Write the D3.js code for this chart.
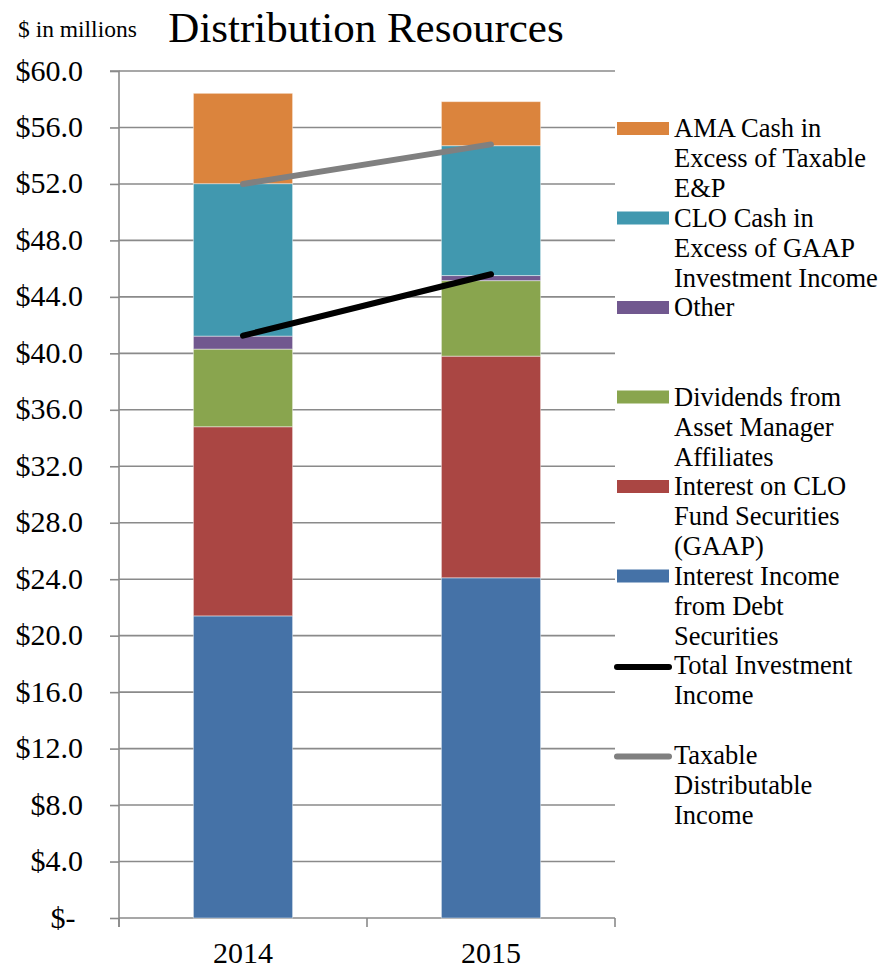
<!DOCTYPE html>
<html>
<head>
<meta charset="utf-8">
<script src="https://cdn.jsdelivr.net/npm/d3@7"></script>
<style>
  html, body { margin: 0; padding: 0; background: #fff; }
  svg { display: block; }
  svg text { font-family: "Liberation Serif", "Times New Roman", serif; }
</style>
</head>
<body>
<svg id="chart" width="881" height="971"></svg>
<script>
// ---- data ----
const categories = ["2014", "2015"];
const interestIncomeDebt = [21.4, 24.1];
const interestCLOFund = [13.4, 15.7];
const dividendsAMA = [5.5, 5.35];
const other = [0.92, 0.36];
const cloCashExcess = [10.8, 9.2];
const amaCashExcess = [6.4, 3.12];
const totalInvestmentIncome = [41.25, 45.6];
const taxableDistributableIncome = [52.0, 54.8];
const yTicks = [0, 4, 8, 12, 16, 20, 24, 28, 32, 36, 40, 44, 48, 52, 56, 60];

const barSeries = [
  { name: "Interest Income from Debt Securities", values: interestIncomeDebt, color: "#4572A7",
    legend: ["Interest Income", "from Debt", "Securities"] },
  { name: "Interest on CLO Fund Securities (GAAP)", values: interestCLOFund, color: "#AA4643",
    legend: ["Interest on CLO", "Fund Securities", "(GAAP)"] },
  { name: "Dividends from Asset Manager Affiliates", values: dividendsAMA, color: "#89A54E",
    legend: ["Dividends from", "Asset Manager", "Affiliates"] },
  { name: "Other", values: other, color: "#71588F", legend: ["Other"] },
  { name: "CLO Cash in Excess of GAAP Investment Income", values: cloCashExcess, color: "#4198AF",
    legend: ["CLO Cash in", "Excess of GAAP", "Investment Income"] },
  { name: "AMA Cash in Excess of Taxable E&P", values: amaCashExcess, color: "#DB843D",
    legend: ["AMA Cash in", "Excess of Taxable", "E&P"] }
];
const lineSeries = [
  { name: "Total Investment Income", values: totalInvestmentIncome, color: "#000000",
    legend: ["Total Investment", "Income"] },
  { name: "Taxable Distributable Income", values: taxableDistributableIncome, color: "#808080",
    legend: ["Taxable", "Distributable", "Income"] }
];

// ---- layout ----
const FONT = "'Liberation Serif', 'Times New Roman', serif";
const svg = d3.select("#chart");
const pLeft = 119, pRight = 615, pTop = 71, pBottom = 918;
const y = d3.scaleLinear().domain([0, 60]).range([pBottom, pTop]);
const x = d3.scaleBand().domain(categories).range([pLeft, pRight]).padding(0);
const barW = x.bandwidth() * 0.4;
const gridColor = "#8a8a8a";

// gridlines
svg.append("g").selectAll("line").data(yTicks.filter(d => d > 0)).join("line")
  .attr("x1", pLeft).attr("x2", pRight)
  .attr("y1", d => y(d)).attr("y2", d => y(d))
  .attr("stroke", gridColor).attr("stroke-width", 1.6);

// y axis
const yAxis = d3.axisLeft(y).tickValues(yTicks).tickSize(9).tickPadding(27)
  .tickFormat(d => d === 0 ? "$-\u00A0" : "$" + d.toFixed(1));
const gy = svg.append("g").attr("transform", `translate(${pLeft},0)`).call(yAxis)
  .attr("font-family", FONT).attr("font-size", 30);
gy.select(".domain").attr("stroke", gridColor).attr("stroke-width", 1.6)
  .attr("d", `M-9,${pTop}H0V${pBottom + 9}`);
gy.selectAll(".tick line").attr("stroke", gridColor).attr("stroke-width", 1.6);
gy.selectAll(".tick text").attr("font-size", 30).attr("fill", "#000")
  .style("font-family", FONT).attr("dy", "0.3em");

// x axis
const xAxis = d3.axisBottom(x).tickSize(0).tickPadding(24);
const gx = svg.append("g").attr("transform", `translate(0,${pBottom})`).call(xAxis)
  .attr("font-family", FONT).attr("font-size", 30);
gx.select(".domain").attr("stroke", gridColor).attr("stroke-width", 1.6)
  .attr("d", `M${pLeft},0H${pRight}`);
gx.selectAll(".tick text").attr("font-size", 30).attr("fill", "#000")
  .style("font-family", FONT).attr("dy", "0.71em");
// category boundary ticks
const bounds = [pLeft, ...categories.map(c => x(c) + x.bandwidth())];
svg.append("g").selectAll("line").data(bounds).join("line")
  .attr("x1", d => d).attr("x2", d => d)
  .attr("y1", pBottom).attr("y2", pBottom + 9)
  .attr("stroke", gridColor).attr("stroke-width", 1.6);

// stacked bars
const stackData = categories.map((c, i) => {
  const o = { cat: c };
  barSeries.forEach(s => o[s.name] = s.values[i]);
  return o;
});
const stack = d3.stack().keys(barSeries.map(s => s.name));
const stacked = stack(stackData);
svg.append("g").selectAll("g").data(stacked).join("g")
  .attr("fill", (d, i) => barSeries[i].color)
  .selectAll("rect").data(d => d).join("rect")
  .attr("x", d => x(d.data.cat) + x.bandwidth() * 0.3)
  .attr("width", barW)
  .attr("y", d => y(d[1]))
  .attr("height", d => y(d[0]) - y(d[1]))
  .attr("stroke", "rgba(255,255,255,0.45)").attr("stroke-width", 1);

// lines
const line = d3.line().x((d, i) => x(categories[i]) + x.bandwidth() / 2).y(d => y(d));
svg.append("g").selectAll("path").data(lineSeries).join("path")
  .attr("d", d => line(d.values))
  .attr("fill", "none").attr("stroke", d => d.color)
  .attr("stroke-width", 6).attr("stroke-linecap", "round");

// title & unit note
svg.append("text").attr("x", 366).attr("y", 42).attr("text-anchor", "middle")
  .style("font-family", FONT)
  .attr("font-size", 43).attr("fill", "#000").text("Distribution Resources");
svg.append("text").attr("x", 18).attr("y", 37)
  .style("font-family", FONT)
  .attr("font-size", 23.5).attr("fill", "#000").text("$ in millions");

// legend
const legendItems = [...barSeries.slice().reverse().map(s => ({ ...s, type: "bar" })),
                     ...lineSeries.map(s => ({ ...s, type: "line" }))];
const lg = svg.append("g");
legendItems.forEach((d, i) => {
  const base = 137 + i * 89.5;
  if (d.type === "bar") {
    lg.append("rect").attr("x", 617).attr("y", base - 15).attr("width", 52).attr("height", 13)
      .attr("fill", d.color);
  } else {
    lg.append("line").attr("x1", 617).attr("x2", 669).attr("y1", base - 7).attr("y2", base - 7)
      .attr("stroke", d.color).attr("stroke-width", 6).attr("stroke-linecap", "round");
  }
  const t = lg.append("text").attr("x", 674).attr("y", base).attr("font-size", 26.5)
    .style("font-family", FONT).attr("fill", "#000");
  d.legend.forEach((ln, j) => {
    t.append("tspan").attr("x", 674).attr("y", base + j * 30).text(ln);
  });
});
</script>
</body>
</html>
